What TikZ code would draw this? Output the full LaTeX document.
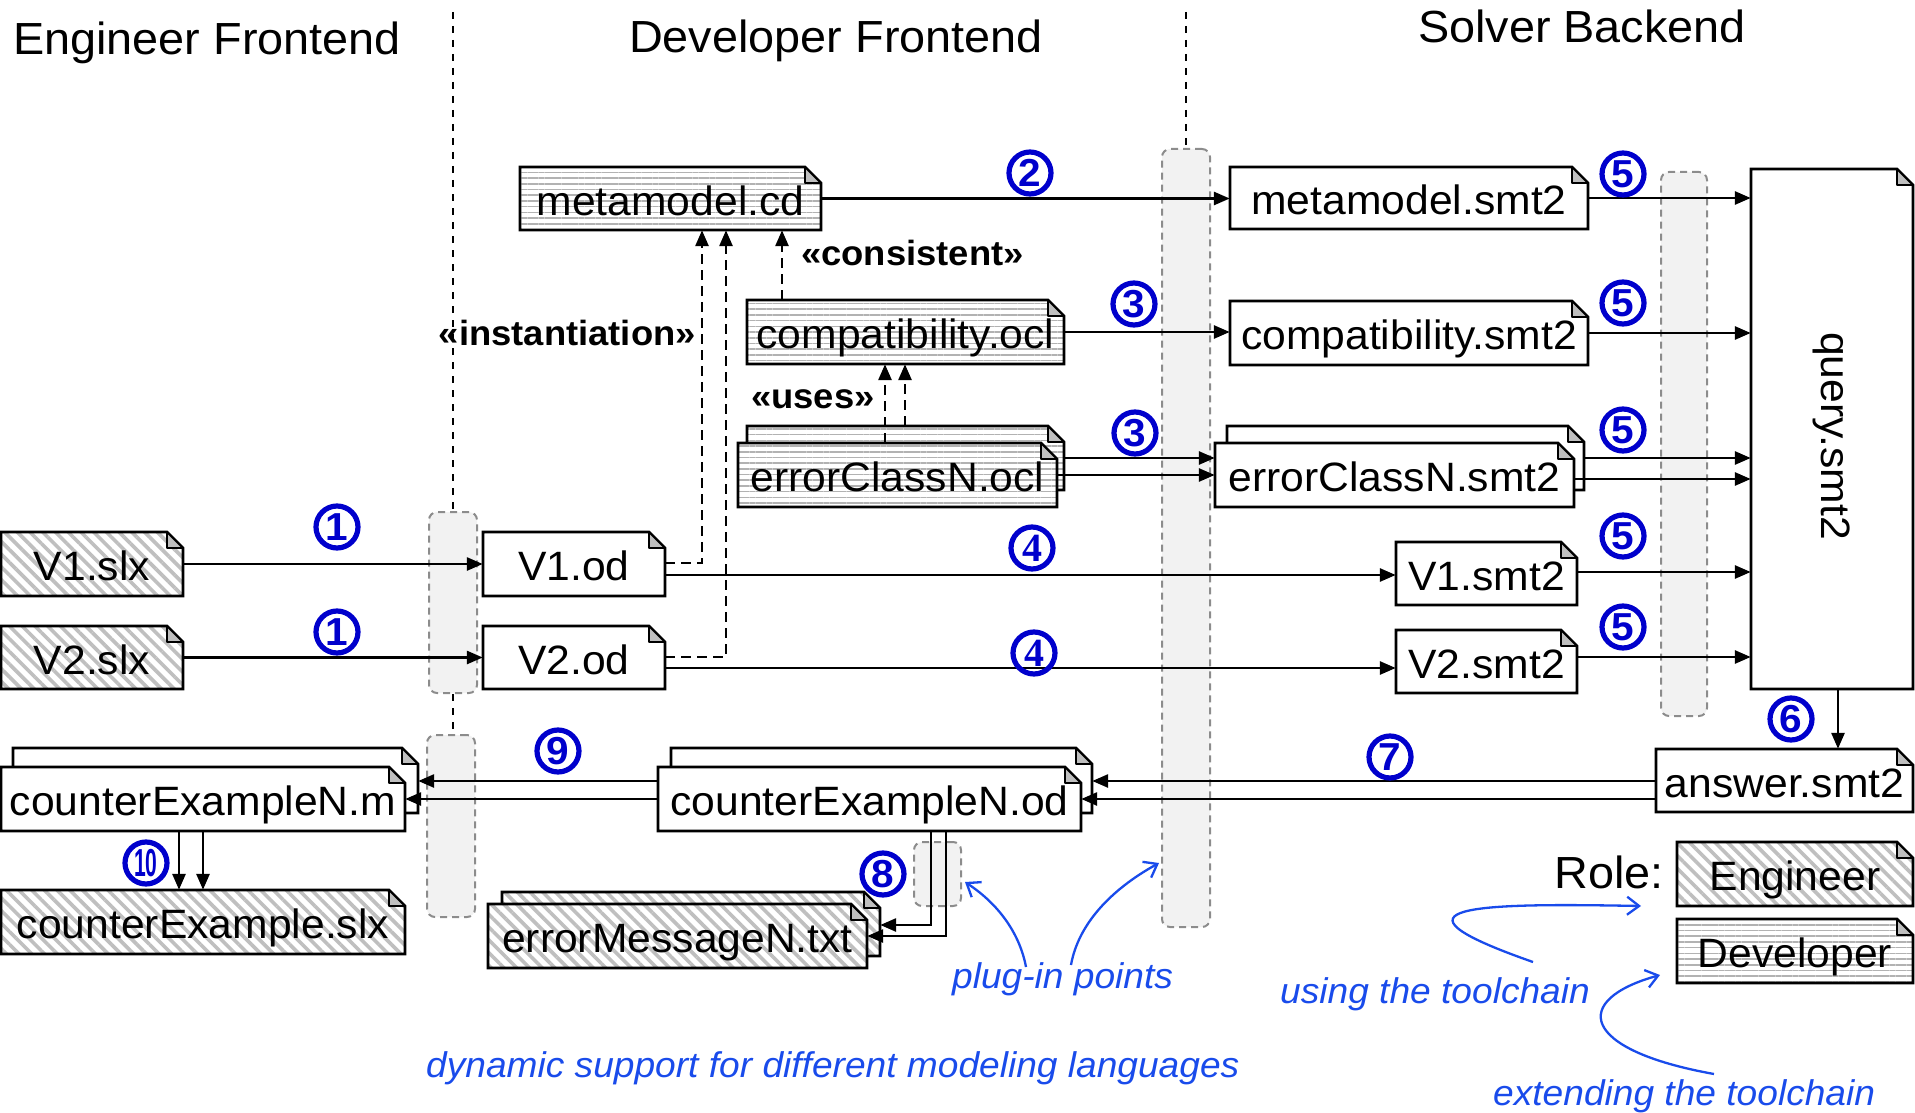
\documentclass[tikz,border=0pt]{standalone}
\usepackage{graphicx}
\usepackage{fontspec}
\setmainfont{Liberation Sans}[FakeStretch=1.04]
\newfontfamily\serifnum{Liberation Serif}
\usetikzlibrary{arrows.meta,patterns.meta,shapes.geometric}
\definecolor{numblue}{RGB}{0,0,204}
\definecolor{annblue}{RGB}{25,75,235}
\newcommand\fs{16}
\newcommand\docbox[7]{%
  \path[#6] (#2,#3) -- ({#4-\fs},#3) -- (#4,{#3+\fs}) -- (#4,#5) -- (#2,#5) -- cycle;
  \draw[docline] (#2,#3) -- ({#4-\fs},#3) -- (#4,{#3+\fs}) -- (#4,#5) -- (#2,#5) -- cycle;
  \filldraw[foldst] ({#4-\fs},#3) -- ({#4-\fs},{#3+\fs}) -- (#4,{#3+\fs}) -- cycle;
  \node[doctext, minimum width={(#4-#2)*1pt}, minimum height={(#5-#3)*1pt}] (#1) at ({(#2+#4)/2},{(#3+#5)/2}) {#7};
}
\begin{document}
\begin{tikzpicture}[x=1pt,y=-1pt,
  doctext/.style={inner sep=0pt, font=\fontsize{41}{48}\selectfont, text height=40pt, text depth=7pt},
  docline/.style={draw=black, line width=2.7pt, line join=miter},
  foldst/.style={fill=black!25, draw=black, line width=1.8pt, line join=round},
  devfill/.style={preaction={fill=white}, pattern={Lines[angle=0,distance=5.7pt,line width=1.6pt]}, pattern color=black!30},
  engfill/.style={preaction={fill=white}, pattern={Lines[angle=-45,distance=9pt,line width=3.6pt]}, pattern color=black!25},
  plainfill/.style={fill=white},
  conn/.style={line width=2.8pt, -{Triangle[length=16pt,width=13pt]}},
  dconn/.style={conn, dash pattern=on 10pt off 6pt},
  divider/.style={line width=1.6pt, dash pattern=on 7pt off 7pt},
  plugbar/.style={draw=black!45, fill=black!5, dash pattern=on 7pt off 5pt, line width=2pt, rounded corners=8pt, inner sep=0pt},
  numst/.style={circle, draw=numblue, line width=5.2pt, text=numblue, minimum size=42pt, inner sep=0pt, font=\fontsize{39}{39}\selectfont\bfseries},
  title/.style={anchor=base, inner sep=0pt, font=\fontsize{45}{54}\selectfont},
  lbl/.style={inner sep=0pt, font=\fontsize{35}{40}\selectfont\bfseries},
  ann/.style={inner sep=0pt, text=annblue, font=\fontsize{35.7}{40}\selectfont\itshape, anchor=base west},
  annarrow/.style={draw=annblue, line width=2.3pt, -{Straight Barb[length=12pt,width=18pt]}}
]
\useasboundingbox (0,0) rectangle (1915,1113);

% titles
\node[title] (tEng) at (207,55) {Engineer Frontend};
\node[title] (tDev) at (836,53) {Developer Frontend};
\node[title] (tSol) at (1582,43) {Solver Backend};

% plug-in bars and dividers
\node[plugbar, minimum width=48pt, minimum height=181pt] (bar1) at (453,602.5) {};
\node[plugbar, minimum width=48pt, minimum height=182pt] (bar2) at (451,826) {};
\node[plugbar, minimum width=48pt, minimum height=778pt] (bar3) at (1186,538) {};
\node[plugbar, minimum width=46pt, minimum height=544pt] (bar4) at (1684,444) {};
\node[plugbar, minimum width=47pt, minimum height=64pt] (bar5) at (937.5,874) {};
\coordinate (d1top) at (453,12);
\coordinate (d2top) at (1186,12);
\draw[divider] (d1top) -- (bar1.north -| d1top);
\draw[divider] (bar1.south -| d1top) -- (bar2.north -| d1top);
\draw[divider] (d2top) -- (bar3.north);

% documents
\docbox{mcd}{520}{167}{821}{230}{devfill}{metamodel.cd}
\docbox{compat}{747}{300}{1064}{364}{devfill}{compatibility.ocl}
\docbox{ecoB}{747}{426}{1064}{490}{devfill}{}
\docbox{ecoF}{738}{443}{1057}{507}{devfill}{errorClassN.ocl}
\docbox{V1slx}{1}{532}{183}{596}{engfill}{V1.slx}
\docbox{V2slx}{1}{626}{183}{689}{engfill}{V2.slx}
\docbox{V1od}{483}{532}{665}{596}{plainfill}{V1.od}
\docbox{V2od}{483}{626}{665}{689}{plainfill}{V2.od}
\docbox{msmt}{1230}{167}{1588}{229}{plainfill}{metamodel.smt2}
\docbox{csmt}{1230}{301}{1588}{365}{plainfill}{compatibility.smt2}
\docbox{esB}{1227}{426}{1584}{490}{plainfill}{}
\docbox{esF}{1215}{443}{1574}{507}{plainfill}{errorClassN.smt2}
\docbox{V1smt}{1396}{542}{1577}{605}{plainfill}{V1.smt2}
\docbox{V2smt}{1396}{630}{1577}{693}{plainfill}{V2.smt2}
\docbox{query}{1751}{169}{1913}{689}{plainfill}{}
\node[doctext, rotate=-90] (qtxt) at (1838,436) {query.smt2};
\docbox{answer}{1656}{749}{1913}{812}{plainfill}{answer.smt2}
\docbox{cmB}{13}{748}{418}{813}{plainfill}{}
\docbox{cmF}{1}{767}{405}{831}{plainfill}{counterExampleN.m}
\docbox{cslx}{1}{890}{405}{954}{engfill}{counterExample.slx}
\docbox{codB}{671}{748}{1092}{813}{plainfill}{}
\docbox{codF}{658}{767}{1081}{831}{plainfill}{counterExampleN.od}
\docbox{emB}{502}{892}{880}{956}{engfill}{}
\docbox{emF}{488}{904}{867}{968}{engfill}{errorMessageN.txt}
\docbox{legEng}{1677}{842}{1913}{906}{engfill}{Engineer}
\docbox{legDev}{1677}{919}{1913}{983}{devfill}{Developer}
\node[title, anchor=base west] (role) at (1554,888) {Role:};

% connectors
\draw[conn] (V1slx) -- (V1od);
\draw[conn] (V2slx) -- (V2od);
\draw[conn] (V1od.east |- 0,575) -- (V1smt.west |- 0,575);
\draw[conn] (V2od.east |- 0,668) -- (V2smt.west |- 0,668);
\draw[dconn] (V1od.east |- 0,563) -| (mcd.south -| 702,0);
\draw[dconn] (V2od.east |- 0,657) -| (mcd.south -| 726,0);
\draw[dconn] (compat.north -| 782,0) -- (mcd.south -| 782,0);
\draw[dconn] (ecoF.north -| 885,0) -- (compat.south -| 885,0);
\draw[dconn] (ecoB.north -| 905,0) -- (compat.south -| 905,0);
\draw[conn] (mcd.east) -- (msmt.west |- mcd.east);
\draw[conn] (compat.east) -- (csmt.west |- compat.east);
\draw[conn] (ecoB.east |- 0,458) -- (esF.west |- 0,458);
\draw[conn] (ecoF.east |- 0,475) -- (esF.west |- 0,475);
\draw[conn] (msmt.east) -- (query.west |- msmt.east);
\draw[conn] (csmt.east) -- (query.west |- csmt.east);
\draw[conn] (esB.east |- 0,458) -- (query.west |- 0,458);
\draw[conn] (esF.east |- 0,479) -- (query.west |- 0,479);
\draw[conn] (V1smt.east |- 0,572) -- (query.west |- 0,572);
\draw[conn] (V2smt.east |- 0,657) -- (query.west |- 0,657);
\draw[conn] (query.south -| 1838,0) -- (answer.north -| 1838,0);
\draw[conn] (answer.west |- 0,781) -- (codB.east |- 0,781);
\draw[conn] (answer.west |- 0,799) -- (codF.east |- 0,799);
\draw[conn] (codF.west |- 0,781) -- (cmB.east |- 0,781);
\draw[conn] (codF.west |- 0,799) -- (cmF.east |- 0,799);
\draw[conn] (cmF.south -| 179,0) -- (cslx.north -| 179,0);
\draw[conn] (cmF.south -| 203,0) -- (cslx.north -| 203,0);
\draw[conn] (codF.south -| 931,0) |- (emB.east |- 0,925);
\draw[conn] (codF.south -| 946,0) |- (emF.east |- 0,936);

% stereotype labels
\node[lbl, anchor=base east] (linst) at (696,345) {«instantiation»};
\node[lbl, anchor=base west] (lcons) at (801,265) {«consistent»};
\node[lbl, anchor=base west] (luses) at (751,408) {«uses»};

% step numbers
\node[numst] (n1a) at (337,527) {1};
\node[numst] (n1b) at (337,632) {1};
\node[numst] (n2) at (1030,173) {2};
\node[numst] (n3a) at (1134,304) {3};
\node[numst] (n3b) at (1135,433) {3};
\node[numst, font={\serifnum\fontsize{40}{40}\selectfont\bfseries}] (n4a) at (1032,548) {4};
\node[numst, font={\serifnum\fontsize{40}{40}\selectfont\bfseries}] (n4b) at (1034,653) {4};
\node[numst] (n5a) at (1623,174) {5};
\node[numst] (n5b) at (1623,303) {5};
\node[numst] (n5c) at (1623,430) {5};
\node[numst] (n5d) at (1623,536) {5};
\node[numst] (n5e) at (1623,627) {5};
\node[numst] (n6) at (1791,719) {6};
\node[numst] (n7) at (1390,757) {7};
\node[numst] (n8) at (883,874) {8};
\node[numst] (n9) at (558,751) {9};
\node[numst] (n10) at (146,863) {\scalebox{0.52}[1]{10}};

% annotations
\node[ann] (aplug) at (952,988) {plug-in points};
\node[ann] (adyn) at (426,1077) {dynamic support for different modeling languages};
\node[ann] (ause) at (1280,1003) {using the toolchain};
\node[ann] (aext) at (1493,1105) {extending the toolchain};
\coordinate (p1s) at (1026,967);
\coordinate (p1e) at (965,882);
\coordinate (p2s) at (1071,965);
\coordinate (p2e) at (1159,863);
\coordinate (u1s) at (1533,962);
\coordinate (u1e) at (1641,906);
\coordinate (e1s) at (1714,1074);
\coordinate (e1e) at (1660,975);
\draw[annarrow] (p1s) .. controls (1020,935) and (1000,905) .. (p1e);
\draw[annarrow] (p2s) .. controls (1078,925) and (1110,890) .. (p2e);
\draw[annarrow] (u1s) .. controls (1370,905) and (1480,903) .. (u1e);
\draw[annarrow] (e1s) .. controls (1580,1050) and (1570,1000) .. (e1e);
\end{tikzpicture}
\end{document}
